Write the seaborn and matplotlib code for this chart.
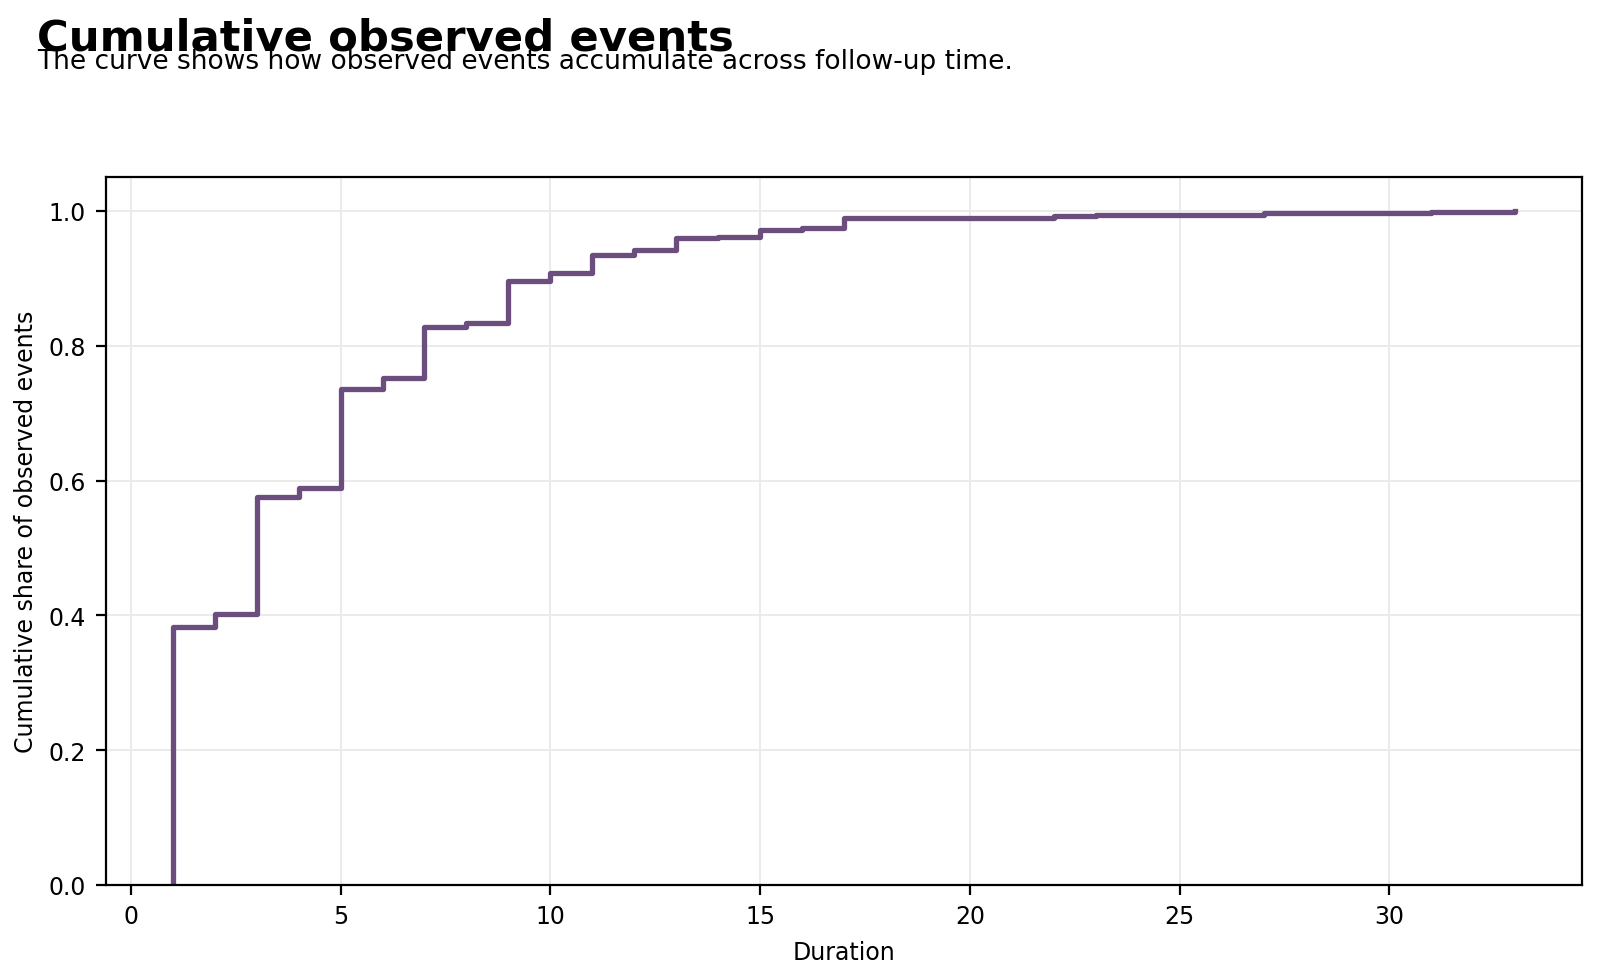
import matplotlib
matplotlib.use('Agg')
import matplotlib.pyplot as plt
import seaborn as sns
import pandas as pd

# durations (follow-up time) and number of observed events at each duration
durations = [1, 2, 3, 4, 5, 6, 7, 8, 9, 10, 11, 12, 13, 14, 15, 16, 17, 22, 23, 27, 31, 33]
events = [207, 10, 94, 7, 79, 9, 41, 3, 34, 6, 15, 4, 9, 1, 6, 1, 8, 2, 1, 1, 1, 1]

df = pd.DataFrame({"Duration": durations, "events": events})

fig = plt.figure(figsize=(8, 4.895), dpi=200)
ax = fig.add_axes([0.066, 0.095, 0.923, 0.723])

sns.ecdfplot(data=df, x="Duration", weights="events", color="#6b4d7e", linewidth=1.9, ax=ax)

ax.set_ylim(0, 1.05)
ax.set_xticks([0, 5, 10, 15, 20, 25, 30])
ax.set_yticks([0.0, 0.2, 0.4, 0.6, 0.8, 1.0])
ax.grid(True, color="#ebebeb", linewidth=0.7)
ax.set_axisbelow(True)
ax.tick_params(labelsize=8.5)
ax.set_xlabel("Duration", fontsize=8.5)
ax.set_ylabel("Cumulative share of observed events", fontsize=8.5)

fig.text(0.023, 0.982, "Cumulative observed events", fontsize=15.6, fontweight="bold", va="top")
fig.text(0.023, 0.950, "The curve shows how observed events accumulate across follow-up time.", fontsize=9.5, va="top")

fig.savefig("out.png", dpi=200)
plt.close(fig)
